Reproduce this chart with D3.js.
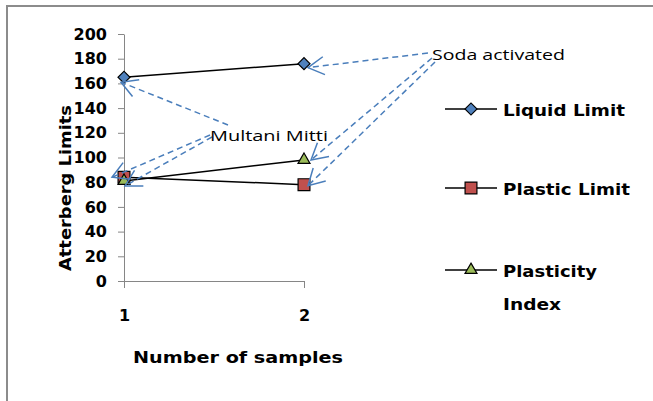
<!DOCTYPE html>
<html>
<head>
<meta charset="utf-8">
<title>Atterberg Limits</title>
<script src="https://d3js.org/d3.v7.min.js"></script>
<style>
body {margin:0; background:white;}
.tick text {font-family:"DejaVu Sans"; font-weight:bold; font-size:16px; fill:black;}
.axis path, .axis line {stroke:#868686;}
.ann {font-family:"Open Sans"; font-size:15px; fill:black;}
.lbl {font-family:"DejaVu Sans"; font-weight:bold; font-size:16px; fill:black;}
</style>
</head>
<body>
<svg width="653" height="401"></svg>
<script>
// chart data
var samples = [1, 2];
var liquidLimit = [165, 176];
var plasticLimit = [84, 78];
var plasticityIndex = [81, 98];
var yTicks = [0, 20, 40, 60, 80, 100, 120, 140, 160, 180, 200];
var seriesNames = ["Liquid Limit", "Plastic Limit", "Plasticity Index"];

var series = [
  {name: seriesNames[0], values: liquidLimit, shape: d3.symbolSquare, size: 72, rot: 45, fill: "#4f81bd"},
  {name: seriesNames[1], values: plasticLimit, shape: d3.symbolSquare, size: 140, rot: 0, fill: "#c0504d"},
  {name: seriesNames[2], values: plasticityIndex, shape: d3.symbolTriangle, size: 62, rot: 0, fill: "#9bbb59"}
];

var svg = d3.select("svg");

// outer frame (only top and left show in the crop)
svg.append("path")
  .attr("d", "M7,401 L7,6 L653,6")
  .attr("fill", "none")
  .attr("stroke", "#8c8c8c")
  .attr("stroke-width", 2);

var x = d3.scaleLinear().domain([1, 2]).range([124, 304]);
var y = d3.scaleLinear().domain([0, 200]).range([281, 34]);

// y title goes under the tick labels, like the original
svg.append("text")
  .attr("class", "lbl")
  .attr("font-size", 17)
  .attr("transform", "translate(71,188) rotate(-90)")
  .attr("text-anchor", "middle")
  .attr("textLength", 166)
  .attr("lengthAdjust", "spacingAndGlyphs")
  .text("Atterberg Limits");

// y axis
var yAxis = d3.axisLeft(y).tickValues(yTicks).tickSize(6).tickSizeOuter(0).tickPadding(11);
svg.append("g").attr("class", "axis")
  .attr("transform", "translate(" + x(1) + ",0)")
  .call(yAxis);

// x axis
var xAxis = d3.axisBottom(x).tickValues(samples).tickFormat(d3.format("d"))
  .tickSize(7).tickSizeOuter(0).tickPadding(22);
svg.append("g").attr("class", "axis")
  .attr("transform", "translate(0," + y(0) + ")")
  .call(xAxis);

svg.append("text")
  .attr("class", "lbl")
  .attr("x", 238).attr("y", 363)
  .attr("text-anchor", "middle")
  .attr("textLength", 210)
  .attr("lengthAdjust", "spacingAndGlyphs")
  .text("Number of samples");

// lines and markers
var line = d3.line()
  .x(function(d, i) { return x(samples[i]); })
  .y(function(d) { return y(d); });

series.forEach(function(s) {
  svg.append("path")
    .attr("d", line(s.values))
    .attr("fill", "none")
    .attr("stroke", "black")
    .attr("stroke-width", 1.5);
});
series.forEach(function(s) {
  svg.selectAll(null)
    .data(s.values)
    .enter()
    .append("path")
    .attr("d", d3.symbol().type(s.shape).size(s.size))
    .attr("transform", function(d, i) {
      return "translate(" + x(samples[i]) + "," + y(d) + ") rotate(" + s.rot + ")";
    })
    .attr("fill", s.fill)
    .attr("stroke", "black")
    .attr("stroke-width", 1.2);
});

// legend
var legendY = [109, 188, 270];
var legendW = {"Liquid Limit": 122, "Plastic Limit": 127, "Plasticity": 94, "Index": 58};
series.forEach(function(s, i) {
  var g = svg.append("g").attr("transform", "translate(445," + legendY[i] + ")");
  g.append("line").attr("x1", 0).attr("x2", 52).attr("stroke", "black").attr("stroke-width", 1.5);
  g.append("path")
    .attr("d", d3.symbol().type(s.shape).size(s.size))
    .attr("transform", "translate(26,0) rotate(" + s.rot + ")")
    .attr("fill", s.fill).attr("stroke", "black").attr("stroke-width", 1.2);
  var words = i === 2 ? ["Plasticity", "Index"] : [s.name];
  words.forEach(function(w, j) {
    g.append("text")
      .attr("class", "lbl")
      .attr("font-size", 18)
      .attr("x", 58).attr("y", 7 + j * 33)
      .attr("textLength", legendW[w])
      .attr("lengthAdjust", "spacingAndGlyphs")
      .text(w);
  });
});

// annotations with dashed arrows
var defs = svg.append("defs");
defs.append("marker")
  .attr("id", "arr")
  .attr("viewBox", "-20 -12 24 24")
  .attr("refX", 0).attr("refY", 0)
  .attr("markerWidth", 24).attr("markerHeight", 24)
  .attr("markerUnits", "userSpaceOnUse")
  .attr("orient", "auto")
  .append("path")
  .attr("d", "M-16,-9 L0,0 L-16,9")
  .attr("fill", "none")
  .attr("stroke", "#4a7ebb")
  .attr("stroke-width", 1.5)
  .attr("stroke-dasharray", "none");

// arrow: [startX, startY, series index, sample, dx, dy]
var annotations = [
  {text: "Soda activated", tx: 432, ty: 60, w: 133,
   arrows: [[428, 53, 0, 2, 4, 4], [432, 58, 2, 2, 7, 0], [435, 62, 1, 2, 4, 1]]},
  {text: "Multani Mitti", tx: 210, ty: 141, w: 118,
   arrows: [[228, 125, 0, 1, -3, 5], [210, 135, 1, 1, -12, 0], [212, 137, 2, 1, 1, 5]]}
];
annotations.forEach(function(a) {
  a.arrows.forEach(function(r) {
    var s = series[r[2]];
    var tipX = x(r[3]) + r[4];
    var tipY = y(s.values[r[3] - 1]) + r[5];
    svg.append("line")
      .attr("x1", r[0]).attr("y1", r[1])
      .attr("x2", tipX).attr("y2", tipY)
      .attr("stroke", "#4a7ebb")
      .attr("stroke-width", 1.5)
      .attr("stroke-dasharray", "6,4")
      .attr("marker-end", "url(#arr)");
  });
  svg.append("text")
    .attr("class", "ann")
    .attr("x", a.tx).attr("y", a.ty)
    .attr("textLength", a.w)
    .attr("lengthAdjust", "spacingAndGlyphs")
    .text(a.text);
});
</script>
</body>
</html>
